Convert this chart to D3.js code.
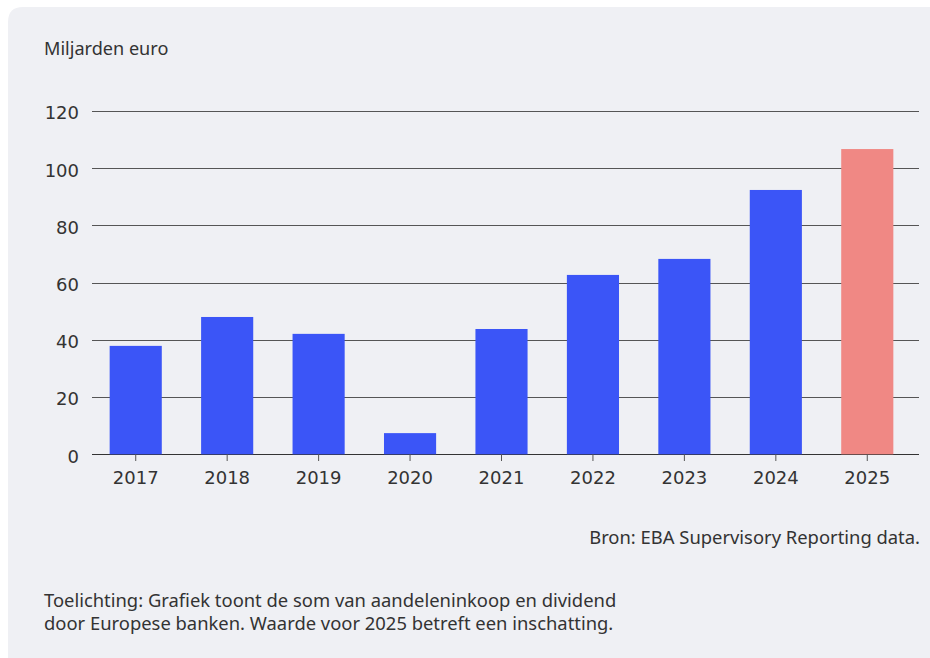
<!DOCTYPE html>
<html>
<head>
<meta charset="utf-8">
<script src="https://cdn.jsdelivr.net/npm/d3@7"></script>
<style>
  html, body { margin: 0; padding: 0; background: #ffffff; }
  svg { display: block; }
  text { font-family: "Noto Sans", "Open Sans", sans-serif; fill: #333333; }
  .num { font-family: "DejaVu Sans", sans-serif; }
</style>
</head>
<body>
<script>
// Aandeleninkoop + dividend door Europese banken, miljarden euro
const years = ["2017", "2018", "2019", "2020", "2021", "2022", "2023", "2024", "2025"];
const values = [37.9, 48.0, 42.1, 7.4, 43.8, 62.7, 68.3, 92.4, 106.7];
const estimateYears = ["2025"];
const yTicks = [0, 20, 40, 60, 80, 100, 120];

const W = 930, H = 658;
const svg = d3.select("body").append("svg").attr("width", W).attr("height", H);

// panel background
svg.append("path")
  .attr("d", `M8,${H} L8,22 Q8,7 23,7 L${W},7 L${W},${H} Z`)
  .attr("fill", "#eff0f4");

const x = d3.scaleBand().domain(years).range([90, 913]).paddingInner(0.43).paddingOuter(0.215);
const y = d3.scaleLinear().domain([0, 120]).range([454.3, 111]);

// gridlines
svg.append("g")
  .selectAll("line")
  .data(yTicks)
  .join("line")
  .attr("x1", 92).attr("x2", 919)
  .attr("y1", d => Math.round(y(d)) + 0.5).attr("y2", d => Math.round(y(d)) + 0.5)
  .attr("stroke", d => d === 0 ? "#333333" : "#555555")
  .attr("stroke-width", 1);

// y labels
svg.append("g")
  .selectAll("text")
  .data(yTicks)
  .join("text")
  .attr("class", "num")
  .attr("x", 79)
  .attr("y", d => y(d) + 8.3)
  .attr("text-anchor", "end")
  .attr("font-size", 18)
  .text(d => d);

// bars
svg.append("g")
  .selectAll("rect")
  .data(years)
  .join("rect")
  .attr("x", d => x(d))
  .attr("width", x.bandwidth())
  .attr("y", (d, i) => y(values[i]))
  .attr("height", (d, i) => y(0) - y(values[i]))
  .attr("fill", d => estimateYears.includes(d) ? "#f08884" : "#3b55f7");

// x axis ticks and labels
const xAxis = d3.axisBottom(x).tickSize(7);
const gx = svg.append("g").attr("transform", `translate(0,${Math.round(y(0))})`).call(xAxis);
gx.select(".domain").remove();
gx.selectAll(".tick line").attr("stroke", "#555555");
gx.selectAll(".tick text")
  .attr("class", "num")
  .attr("y", 30)
  .attr("dy", null)
  .attr("font-size", 18)
  .attr("fill", "#333333")
  .style("font-family", "'DejaVu Sans', sans-serif");

// titles and notes
svg.append("text").attr("x", 44).attr("y", 55).attr("font-size", 18.1).text("Miljarden euro");
svg.append("text").attr("x", 920).attr("y", 544).attr("text-anchor", "end").attr("font-size", 18.4)
  .text("Bron: EBA Supervisory Reporting data.");
svg.append("text").attr("x", 44).attr("y", 607).attr("font-size", 18.4)
  .text("Toelichting: Grafiek toont de som van aandeleninkoop en dividend");
svg.append("text").attr("x", 44).attr("y", 630).attr("font-size", 18.4)
  .text("door Europese banken. Waarde voor 2025 betreft een inschatting.");
</script>
</body>
</html>
